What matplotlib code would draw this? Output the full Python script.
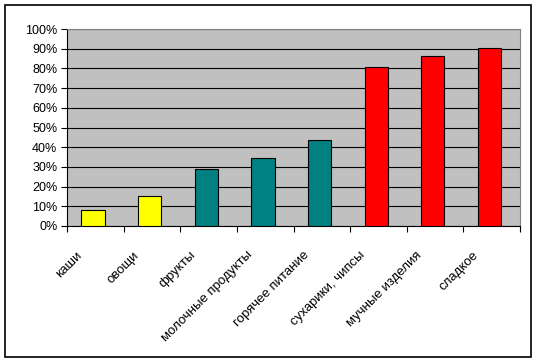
import numpy as np
from matplotlib import pyplot as plt
from matplotlib.patches import Rectangle
from matplotlib.ticker import PercentFormatter
from matplotlib.transforms import ScaledTranslation

categories = ['каши', 'овощи', 'фрукты', 'молочные продукты', 'горячее питание',
              'сухарики, чипсы', 'мучные изделия', 'сладкое']
values = [8, 15, 29, 34.5, 43.5, 80.5, 86.5, 90.5]
colors = ['#FFFF00', '#FFFF00', '#008080', '#008080', '#008080',
          '#FF0000', '#FF0000', '#FF0000']

plt.rcParams['font.family'] = ['Liberation Sans', 'DejaVu Sans']

W, H = 536, 364
fig = plt.figure(figsize=(W / 100, H / 100), dpi=100)
ax = fig.add_axes([67 / W, 1 - 226 / H, (520 - 67) / W, (226 - 29) / H])

x = np.arange(len(categories))
ax.bar(x - 0.04, values, width=0.41, color=colors, edgecolor='black', linewidth=0.8, zorder=3)

ax.set_facecolor('#C0C0C0')
ax.set_xlim(-0.5, len(categories) - 0.5)
ax.set_ylim(0, 100)
ax.set_yticks(np.arange(0, 101, 10))
ax.yaxis.set_major_formatter(PercentFormatter(decimals=0))
ax.grid(axis='y', color='black', linewidth=0.8, zorder=1)

# ticks on category boundaries, labels at category centres
ax.set_xticks(np.arange(-0.5, len(categories), 1.0))
ax.set_xticklabels([])
ax.set_xticks(x, minor=True)
ax.set_xticklabels(categories, minor=True, rotation=45, ha='right', va='top',
                   rotation_mode='anchor', fontsize=9.5)
ax.tick_params(axis='x', which='minor', length=0, pad=8)
ax.tick_params(axis='x', which='major', length=4, color='black')
ax.tick_params(axis='y', length=4, labelsize=9, pad=3)

shift = ScaledTranslation(-19 / 100, -12 / 100, fig.dpi_scale_trans)
for lbl in ax.get_xticklabels(minor=True):
    lbl.set_transform(lbl.get_transform() + shift)

for side in ['top', 'right']:
    ax.spines[side].set_color('#808080')
for side in ['left', 'bottom']:
    ax.spines[side].set_color('black')

fig.patches.append(Rectangle((5 / W, 1 - 357 / H), 526 / W, 352 / H,
                             transform=fig.transFigure, fill=False,
                             edgecolor='black', linewidth=1.2))

plt.savefig('out.png', dpi=100)
plt.close()
